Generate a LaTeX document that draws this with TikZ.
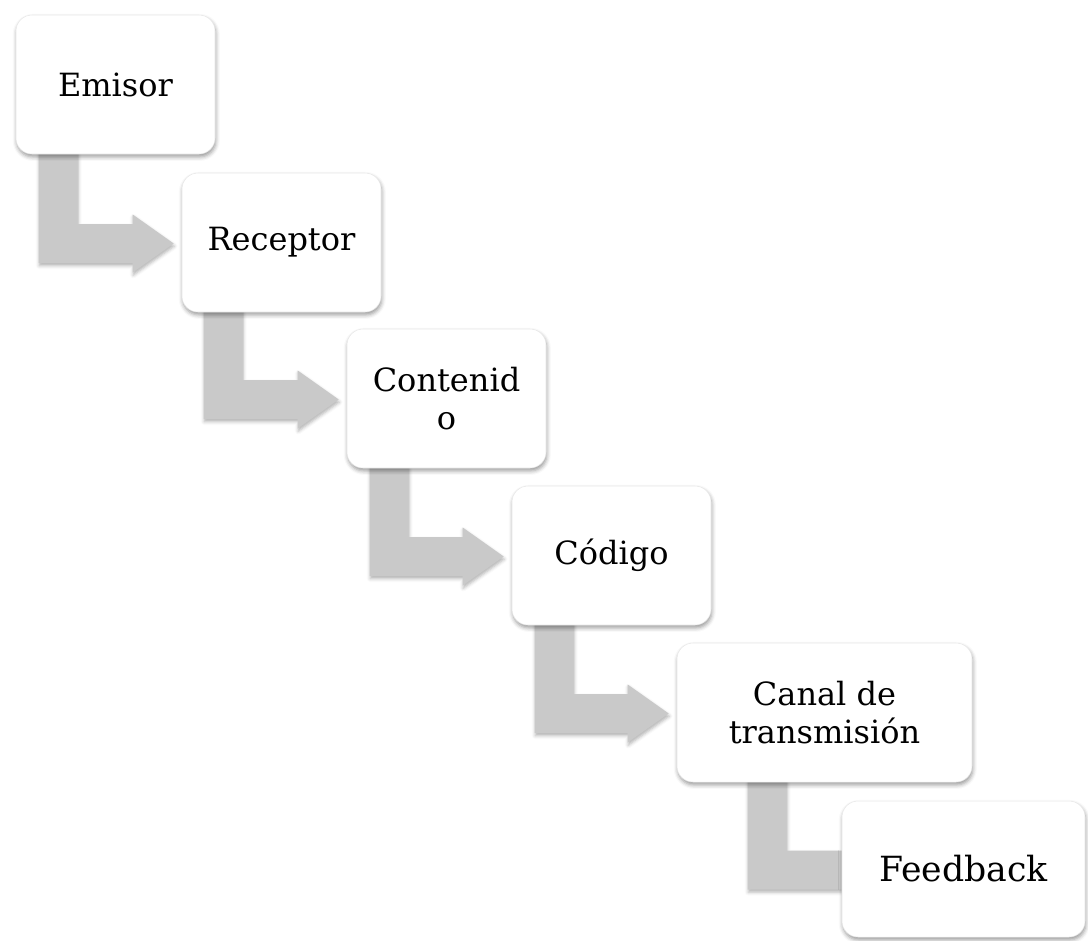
\documentclass[tikz,border=0pt]{standalone}
\usepackage{fontspec}
\setmainfont{DejaVu Serif}
\usetikzlibrary{calc,shadows.blur}
\pgfdeclarelayer{background}
\pgfsetlayers{background,main}

\definecolor{arrowgray}{RGB}{201,201,201}
\definecolor{boxline}{RGB}{232,232,232}

\tikzset{
  stepbox/.style={
    draw=boxline, line width=0.4pt, fill=white,
    rounded corners=12pt,
    minimum width=149.25pt, minimum height=104.25pt,
    inner sep=2pt, align=center,
    font=\fontsize{24}{28.5}\selectfont,
    blur shadow={shadow xshift=0.6pt, shadow yshift=-2.2pt,
                 shadow blur radius=3pt, shadow opacity=40}
  },
  widebox/.style={stepbox, minimum width=221.25pt},
  bigbox/.style={stepbox,
    minimum width=182.25pt, minimum height=102pt,
    font=\fontsize{26}{31}\selectfont},
  flowarrow/.style={
    fill=arrowgray,
    blur shadow={shadow xshift=0.4pt, shadow yshift=-2pt,
                 shadow blur radius=2.5pt, shadow opacity=30}
  }
}

% bent block arrow: leaves the bottom of #1, turns right into #2
% #3 = shaft offset from the lower left corner of #1, #4 = tip offset from the west side of #2
\newcommand{\stepconnector}[4]{%
  \coordinate (s1) at ($(#1.south west)+(#3,-10)$);
  \coordinate (s2) at ($(s1)+(39,0)$);
  \coordinate (tp) at ($(#2.west)+(#4,1)$);
  \fill[flowarrow] (s1) -- ($(s1|-tp)+(0,19.5)$) -- ($(tp)+(-41,19.5)$)
    -- ($(tp)+(-41,29)$) -- (tp) -- ($(tp)+(-41,-29)$)
    -- ($(tp)+(-41,-19.5)$) -- ($(s2|-tp)+(0,-19.5)$) -- (s2) -- cycle;
}

\begin{document}
\begin{tikzpicture}[x=0.75pt,y=-0.75pt]
\useasboundingbox (0,0) rectangle (1088,940);

\node[stepbox] (emisor)    at (115.5,84.5)  {Emisor};
\node[stepbox] (receptor)  at (281.5,242.5) {Receptor};
\node[stepbox] (contenido) at (446.5,398.5) {Contenid\\o};
\node[stepbox] (codigo)    at (611.5,555.5) {Código};
\node[widebox] (canal)     at (824.5,712.5) {Canal de\\transmisión};
\node[bigbox]  (feedback)  at (963.5,869)   {Feedback};

\begin{pgfonlayer}{background}
  \stepconnector{emisor}{receptor}{23}{-8}
  \stepconnector{receptor}{contenido}{22}{-8}
  \stepconnector{contenido}{codigo}{23}{-8}
  \stepconnector{codigo}{canal}{23}{-8}
  \stepconnector{canal}{feedback}{71}{45}
\end{pgfonlayer}
\end{tikzpicture}
\end{document}
